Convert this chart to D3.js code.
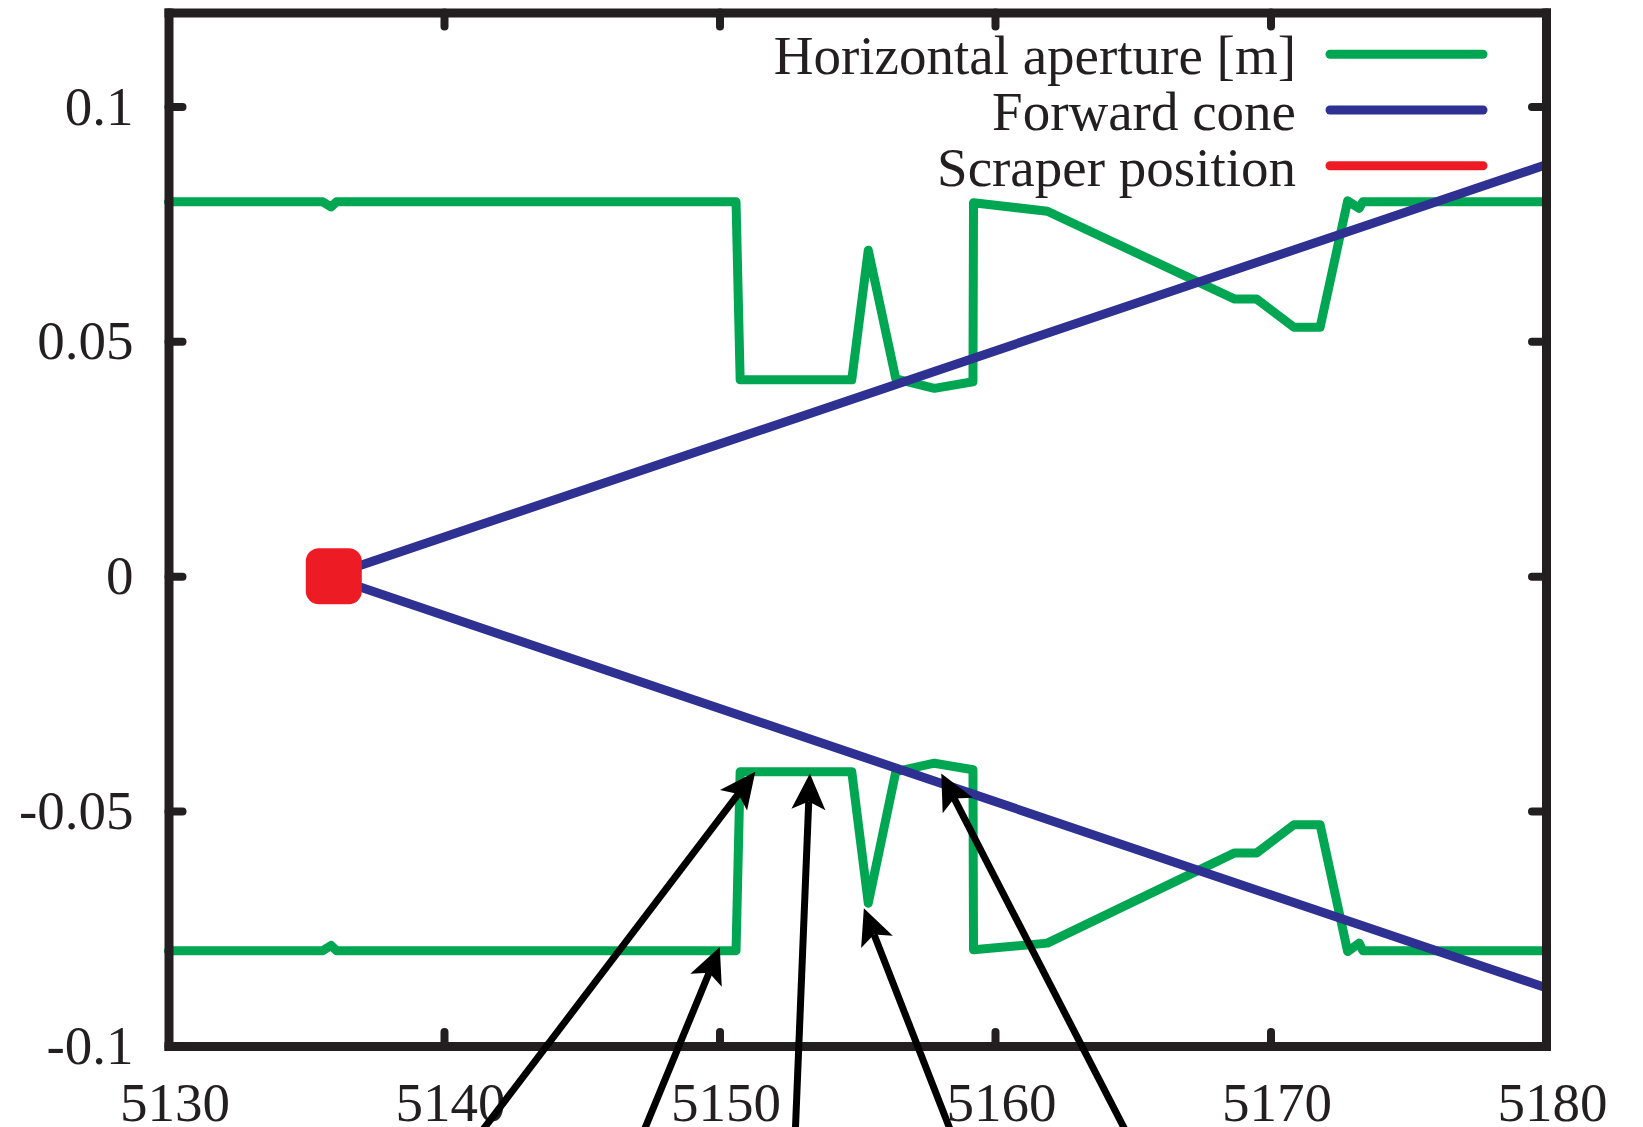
<!DOCTYPE html>
<html><head><meta charset="utf-8">
<script src="https://cdn.jsdelivr.net/npm/d3@7"></script>
<style>body{margin:0;background:#fff} svg{display:block}</style>
</head><body>
<svg id="c" width="1643" height="1127"></svg>
<script>
// ---- data ----
const xDomain = [5130, 5180];
const yDomain = [-0.1, 0.12];
const xTicks = [5130, 5140, 5150, 5160, 5170, 5180];
const xTickLabels = ["5130", "5140", "5150", "5160", "5170", "5180"];
const yTicks = [-0.1, -0.05, 0, 0.05, 0.1];
const yTickLabels = ["-0.1", "-0.05", "0", "0.05", "0.1"];

const apertureX     = [5130, 5135.6, 5135.9, 5136.1, 5150.6, 5150.75, 5154.8, 5155.4, 5156.4, 5157.8, 5159.2, 5159.22, 5161.9, 5168.7, 5169.5, 5170.85, 5171.8, 5172.8, 5173.22, 5173.35, 5180];
const apertureUpper = [0.0797, 0.0797, 0.0786, 0.0797, 0.0797, 0.0418, 0.0418, 0.0694, 0.0420, 0.0400, 0.0414, 0.0795, 0.0777, 0.0590, 0.0590, 0.0530, 0.0530, 0.0799, 0.0783, 0.0797, 0.0797];
const apertureLower = [-0.0797, -0.0797, -0.0786, -0.0797, -0.0797, -0.0416, -0.0416, -0.0696, -0.0416, -0.0398, -0.0412, -0.0795, -0.0781, -0.0589, -0.0589, -0.0529, -0.0529, -0.0799, -0.0781, -0.0797, -0.0797];

const coneX = [5135.8, 5180];
const coneUpper = [0, 0.0876];
const coneLower = [0, -0.0876];

const scraperX = [5136];
const scraperY = [0];

const arrowTipX  = [5151.30, 5150.01, 5153.28, 5155.24, 5158.05];
const arrowTipY  = [-0.0416, -0.0789, -0.0420, -0.0707, -0.0420];
const arrowTailX = [5141.13, 5147.12, 5152.74, 5158.52, 5164.91];
const arrowTailY = [-0.12, -0.12, -0.12, -0.12, -0.12];

const legendLabels = ["Horizontal aperture [m]", "Forward cone", "Scraper position"];

// ---- styles ----
const GREEN = "#00A651", BLUE = "#2E3192", RED = "#ED1C24", INK = "#231F20";
const FONT = "'Liberation Serif', 'Times New Roman', serif";

const svg = d3.select("#c");
const L = 168.5, R = 1546, T = 12.5, B = 1046;
const x = d3.scaleLinear().domain(xDomain).range([L, R]);
const y = d3.scaleLinear().domain(yDomain).range([B, T]);

const line = d3.line().x(d => x(d[0])).y(d => y(d[1]));

const gData = svg.append("g");
function series(xs, ys, color) {
  gData.append("path")
    .attr("d", line(xs.map((v, i) => [v, ys[i]])))
    .attr("fill", "none").attr("stroke", color).attr("stroke-width", 9)
    .attr("stroke-linejoin", "round").attr("stroke-linecap", "round");
}
series(apertureX, apertureUpper, GREEN);
series(apertureX, apertureLower, GREEN);
series(coneX, coneUpper, BLUE);
series(coneX, coneLower, BLUE);

gData.selectAll("rect.scraper").data(scraperX).enter().append("rect")
  .attr("class", "scraper")
  .attr("x", (d) => x(d) - 28).attr("y", (d, i) => y(scraperY[i]) - 28)
  .attr("width", 56).attr("height", 56).attr("rx", 13)
  .attr("fill", RED);

// ---- axes / frame ----
function styleAxis(g, showLabels) {
  g.select(".domain").attr("stroke", INK).attr("stroke-width", 9).attr("stroke-linecap", "square");
  g.selectAll(".tick line").attr("stroke", INK).attr("stroke-width", 8).attr("stroke-linecap", "round");
  g.selectAll(".tick text").attr("fill", INK).style("font-family", FONT).style("font-size", "55px");
  if (!showLabels) g.selectAll(".tick text").remove();
}
const gx = svg.append("g").attr("transform", `translate(0,${B})`)
  .call(d3.axisBottom(x).tickValues(xTicks).tickFormat((d, i) => xTickLabels[i]).tickSize(-14).tickSizeOuter(0).tickPadding(36));
styleAxis(gx, true);
gx.selectAll(".tick text").attr("dx", 6);
const gxt = svg.append("g").attr("transform", `translate(0,${T})`)
  .call(d3.axisTop(x).tickValues(xTicks).tickSize(-14).tickSizeOuter(0));
styleAxis(gxt, false);
const gy = svg.append("g").attr("transform", `translate(${L},0)`)
  .call(d3.axisLeft(y).tickValues(yTicks).tickFormat((d, i) => yTickLabels[i]).tickSize(-14).tickSizeOuter(0).tickPadding(35));
styleAxis(gy, true);
const gyr = svg.append("g").attr("transform", `translate(${R},0)`)
  .call(d3.axisRight(y).tickValues(yTicks).tickSize(-14).tickSizeOuter(0));
styleAxis(gyr, false);
svg.selectAll(".domain").attr("fill", "none");

// ---- legend ----
const legendColors = [GREEN, BLUE, RED];
const lg = svg.append("g");
legendLabels.forEach((lab, i) => {
  const ly = 54.3 + i * 55.7;
  lg.append("text").attr("x", 1296).attr("y", ly + 20).attr("text-anchor", "end")
    .attr("fill", INK).style("font-family", FONT).style("font-size", "55px").text(lab);
  lg.append("line").attr("x1", 1330).attr("x2", 1483).attr("y1", ly).attr("y2", ly)
    .attr("stroke", legendColors[i]).attr("stroke-width", 9).attr("stroke-linecap", "round");
});

// ---- arrows ----
const ag = svg.append("g");
arrowTipX.forEach((_, i) => {
  const tx = x(arrowTipX[i]), ty = y(arrowTipY[i]);
  const sx = x(arrowTailX[i]), sy = y(arrowTailY[i]);
  const dx = tx - sx, dy = ty - sy, len = Math.hypot(dx, dy);
  const ux = dx / len, uy = dy / len, px = -uy, py = ux;
  const HL = 36, HW = 17, N = 8;
  ag.append("line").attr("x1", sx).attr("y1", sy)
    .attr("x2", tx - ux * (HL - N)).attr("y2", ty - uy * (HL - N))
    .attr("stroke", "#000").attr("stroke-width", 7);
  const pts = [[tx, ty],
    [tx - ux * HL + px * HW, ty - uy * HL + py * HW],
    [tx - ux * (HL - N), ty - uy * (HL - N)],
    [tx - ux * HL - px * HW, ty - uy * HL - py * HW]];
  ag.append("path").attr("d", "M" + pts.map(p => p.join(",")).join("L") + "Z").attr("fill", "#000");
});
</script>
</body></html>
